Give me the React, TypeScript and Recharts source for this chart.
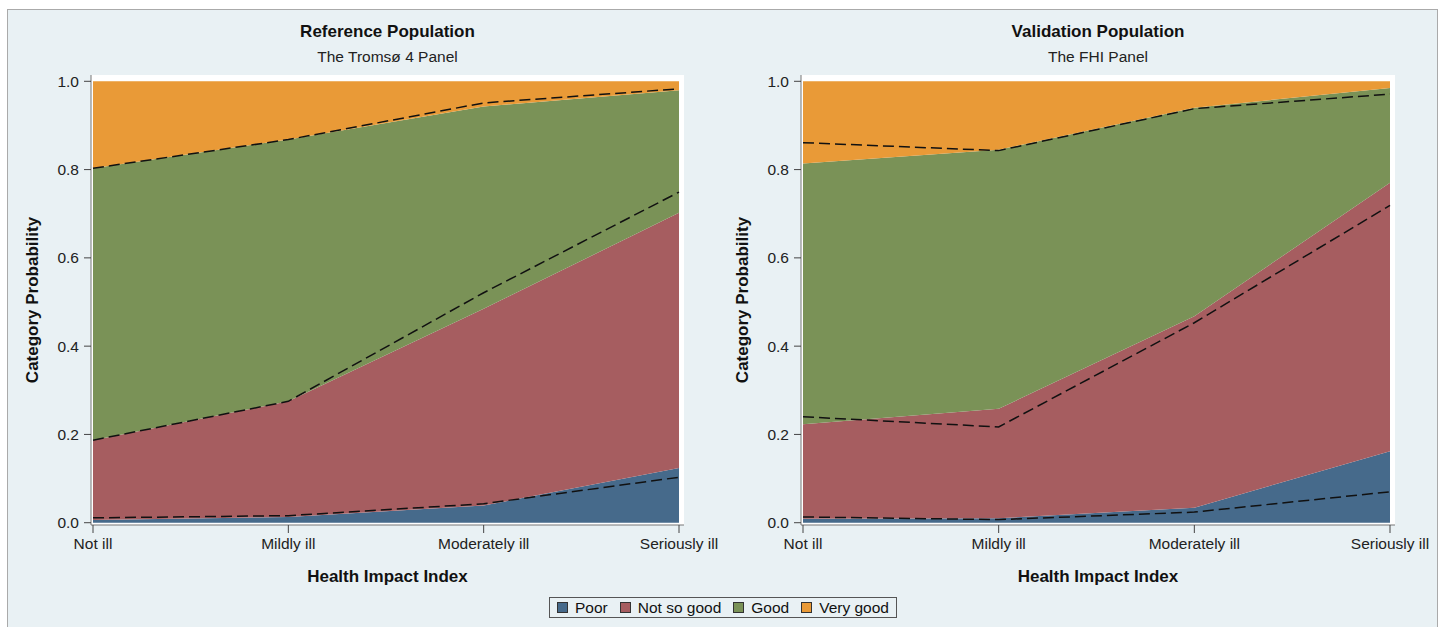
import React from "react";
import {
  Area,
  CartesianGrid,
  ComposedChart,
  Label,
  Line,
  XAxis,
  YAxis,
} from "recharts";

// Colours
const BLUE = "#466A8B";
const RED = "#A65D60";
const GREEN = "#7A9257";
const ORANGE = "#E99A37";
const BG = "#E9F1F4";
const FRAME = "#777";
const FONT = "'Liberation Sans', Arial, sans-serif";

const categories = ["Not ill", "Mildly ill", "Moderately ill", "Seriously ill"];
const yTicks = [0, 0.2, 0.4, 0.6, 0.8, 1.0];

// Reference population (Tromsø 4) — fitted category probabilities
const refPoor = [0.006, 0.013, 0.039, 0.124];
const refNotSoGood = [0.181, 0.262, 0.446, 0.578];
const refGood = [0.616, 0.593, 0.458, 0.278];
const refVeryGood = [0.197, 0.132, 0.057, 0.02];
// observed (dashed lines), per category
const refObsPoor = [0.011, 0.016, 0.043, 0.103];
const refObsNotSoGood = [0.176, 0.259, 0.478, 0.646];
const refObsGood = [0.616, 0.593, 0.43, 0.234];

// Validation population (FHI) — fitted
const valPoor = [0.009, 0.01, 0.034, 0.162];
const valNotSoGood = [0.214, 0.248, 0.434, 0.608];
const valGood = [0.591, 0.587, 0.472, 0.215];
const valVeryGood = [0.186, 0.155, 0.06, 0.015];
// observed
const valObsPoor = [0.013, 0.007, 0.024, 0.07];
const valObsNotSoGood = [0.227, 0.21, 0.429, 0.649];
const valObsGood = [0.621, 0.626, 0.485, 0.252];

const legendItems = [
  { label: "Poor", color: BLUE },
  { label: "Not so good", color: RED },
  { label: "Good", color: GREEN },
  { label: "Very good", color: ORANGE },
];

function buildRows(
  poor: number[],
  nsg: number[],
  good: number[],
  vg: number[],
  oPoor: number[],
  oNsg: number[],
  oGood: number[]
) {
  return categories.map((c, i) => ({
    cat: c,
    poor: poor[i],
    nsg: nsg[i],
    good: good[i],
    vg: vg[i],
    c1: oPoor[i],
    c2: oPoor[i] + oNsg[i],
    c3: oPoor[i] + oNsg[i] + oGood[i],
  }));
}

const refRows = buildRows(refPoor, refNotSoGood, refGood, refVeryGood, refObsPoor, refObsNotSoGood, refObsGood);
const valRows = buildRows(valPoor, valNotSoGood, valGood, valVeryGood, valObsPoor, valObsNotSoGood, valObsGood);

const tickStyle = { fill: "#222", fontSize: 15.5, fontFamily: FONT };
const dash = "11 5";

function Panel({
  rows,
  title,
  subtitle,
  left,
  width,
}: {
  rows: ReturnType<typeof buildRows>;
  title: string;
  subtitle: string;
  left: number;
  width: number;
}) {
  const plotLeft = 91;
  const plotRight = width - 36;
  const center = (plotLeft + plotRight) / 2;
  return (
    <div style={{ position: "absolute", left, top: 0, width, height: 600 }}>
      <div
        style={{
          position: "absolute",
          left: center - 200,
          width: 400,
          top: 22,
          textAlign: "center",
          fontFamily: FONT,
          fontWeight: "bold",
          fontSize: 17,
          color: "#111",
        }}
      >
        {title}
      </div>
      <div
        style={{
          position: "absolute",
          left: center - 200,
          width: 400,
          top: 48,
          textAlign: "center",
          fontFamily: FONT,
          fontSize: 15.5,
          color: "#222",
        }}
      >
        {subtitle}
      </div>
      <ComposedChart
        width={width}
        height={600}
        data={rows}
        margin={{ top: 75, right: 36, bottom: 15, left: 31 }}
      >
        <CartesianGrid horizontal={false} vertical={false} fill="#fff" />
        <XAxis
          dataKey="cat"
          padding={{ left: 2, right: 5 }}
          height={60}
          tickSize={8}
          tickMargin={5}
          tick={tickStyle}
          axisLine={{ stroke: FRAME }}
          tickLine={{ stroke: "#444" }}
          interval={0}
        >
          <Label
            value="Health Impact Index"
            position="insideBottom"
            offset={3}
            style={{ fontFamily: FONT, fontWeight: "bold", fontSize: 17, fill: "#111" }}
          />
        </XAxis>
        <XAxis
          xAxisId="top"
          dataKey="cat"
          orientation="top"
          height={0}
          tick={false}
          tickLine={false}
          axisLine={{ stroke: FRAME }}
        />
        <YAxis
          domain={[-0.0052, 1.0143]}
          ticks={yTicks}
          allowDataOverflow
          width={60}
          tickSize={7}
          tickMargin={5}
          tick={tickStyle}
          tickFormatter={(v: number) => v.toFixed(1)}
          axisLine={{ stroke: FRAME }}
          tickLine={{ stroke: "#444" }}
        >
          <Label
            value="Category Probability"
            angle={-90}
            position="insideLeft"
            offset={1}
            style={{ textAnchor: "middle", fontFamily: FONT, fontWeight: "bold", fontSize: 17, fill: "#111" }}
          />
        </YAxis>
        <YAxis
          yAxisId="right"
          orientation="right"
          width={0}
          tick={false}
          tickLine={false}
          axisLine={{ stroke: FRAME }}
        />
        <Area type="linear" dataKey="poor" stackId="fit" fill={BLUE} fillOpacity={1} stroke="none" isAnimationActive={false} />
        <Area type="linear" dataKey="nsg" stackId="fit" fill={RED} fillOpacity={1} stroke="none" isAnimationActive={false} />
        <Area type="linear" dataKey="good" stackId="fit" fill={GREEN} fillOpacity={1} stroke="none" isAnimationActive={false} />
        <Area type="linear" dataKey="vg" stackId="fit" fill={ORANGE} fillOpacity={1} stroke="none" isAnimationActive={false} />
        <Line type="linear" dataKey="c1" stroke="#111" strokeWidth={1.5} strokeDasharray={dash} dot={false} isAnimationActive={false} />
        <Line type="linear" dataKey="c2" stroke="#111" strokeWidth={1.5} strokeDasharray={dash} dot={false} isAnimationActive={false} />
        <Line type="linear" dataKey="c3" stroke="#111" strokeWidth={1.5} strokeDasharray={dash} dot={false} isAnimationActive={false} />
      </ComposedChart>
    </div>
  );
}

export default function App() {
  return (
    <div style={{ position: "absolute", left: 0, top: 0, width: 1445, height: 627, background: "#fff", overflow: "hidden" }}>
      <div
        style={{
          position: "absolute",
          left: 7,
          top: 9,
          width: 1429,
          height: 640,
          background: BG,
          border: "1px solid #aaa",
        }}
      />
      <Panel rows={refRows} title="Reference Population" subtitle="The Tromsø 4 Panel" left={0} width={720} />
      <Panel rows={valRows} title="Validation Population" subtitle="The FHI Panel" left={710} width={721} />
      <div
        style={{
          position: "absolute",
          left: 549,
          top: 597,
          width: 348,
          height: 21,
          padding: "0 7px",
          border: "1px solid #555",
          display: "flex",
          alignItems: "center",
          justifyContent: "space-between",
          fontFamily: FONT,
          fontSize: 15.5,
          color: "#111",
          boxSizing: "border-box",
        }}
      >
        {legendItems.map((it) => (
          <span key={it.label} style={{ display: "flex", alignItems: "center", gap: 7 }}>
            <span
              style={{
                display: "inline-block",
                width: 9,
                height: 9,
                background: it.color,
                border: "1px solid #333",
              }}
            />
            {it.label}
          </span>
        ))}
      </div>
    </div>
  );
}
